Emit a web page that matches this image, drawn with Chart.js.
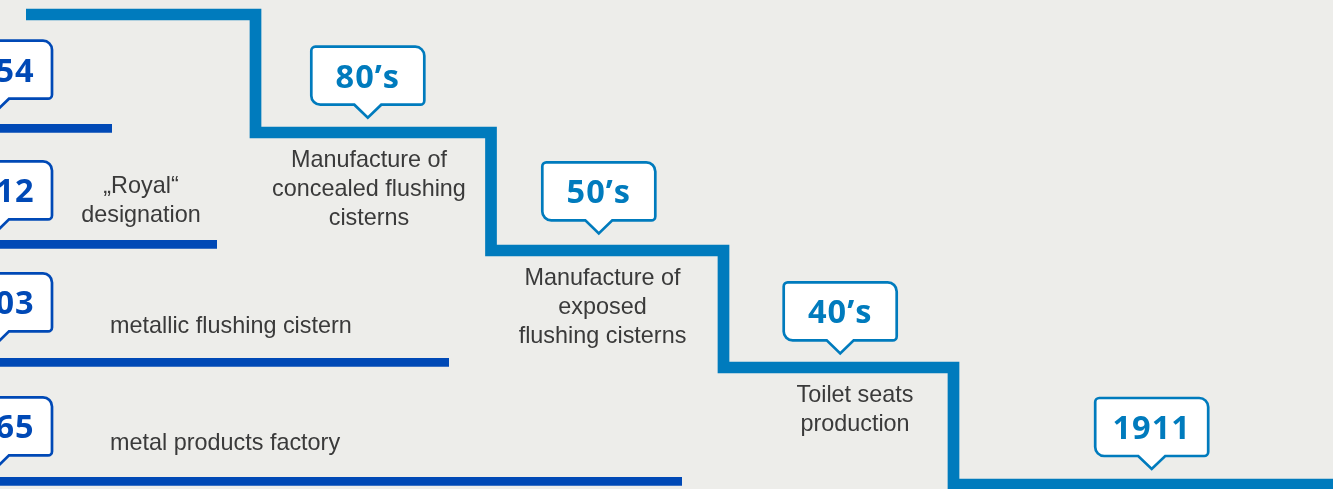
<!DOCTYPE html>
<html><head><meta charset="utf-8">
<script src="https://cdn.jsdelivr.net/npm/chart.js@4"></script>
<style>html,body{margin:0;padding:0;background:#ededea;overflow:hidden}
#wrap{width:1333px;height:489px;position:relative}</style>
</head><body><div id="wrap"><canvas id="c"></canvas></div>
<script>
// ---- data (timeline units) ----
// light-blue staircase: corner positions along the timeline
const stepX = [26, 255.5, 491, 723.5, 953.5, 1333];
const stepY = [14.5, 132.5, 250.5, 367.5, 484.5, 484.5];
// dark-blue history bars
const barEnds = [112, 217, 449, 682];
const barLevels = [128.3, 244.3, 362.3, 481.3];
// callouts on the staircase
const eraLabels = ["80’s", "50’s", "40’s", "1911"];
const eraX = [367.8, 598.8, 840.2, 1151.7];
const eraY = [117.7, 233.4, 353.4, 469];
// callouts on the history bars
const yearLabels = ["1954", "1912", "1903", "1865"];
const yearX = [-4.5, -4.5, -4.5, -4.5];
const yearY = [111.7, 232.4, 344.4, 468.4];
// descriptions
const eraTexts = [["Manufacture of", "concealed flushing", "cisterns"], ["Manufacture of", "exposed", "flushing cisterns"], ["Toilet seats", "production"]];
const yearTexts = [[], ["„Royal“", "designation"], ["metallic flushing cistern"], ["metal products factory"]];

// ---- styling / layout ----
const STEP = '#007bbd', BAR = '#0049b6', TXT = '#3a3a3a';
const eraTextPos = [{x: 369, y: 167, align: 'center'}, {x: 602.5, y: 285, align: 'center'}, {x: 855, y: 401.5, align: 'center'}];
const yearTextPos = [null, {x: 141, y: 193.3, align: 'center'}, {x: 110, y: 333.3, align: 'left'}, {x: 110, y: 450, align: 'left'}];

function drawBubble(ctx, cx, tipY, color, text) {
  const w = 113, h = 58, tailH = 13, tailHalf = 13.5;
  const bottom = tipY - tailH, top = bottom - h, left = cx - w / 2, right = cx + w / 2;
  const rtl = 4, rtr = 9, rbr = 4, rbl = 9;
  ctx.save();
  ctx.beginPath();
  ctx.moveTo(left + rtl, top);
  ctx.lineTo(right - rtr, top); ctx.arcTo(right, top, right, top + rtr, rtr);
  ctx.lineTo(right, bottom - rbr); ctx.arcTo(right, bottom, right - rbr, bottom, rbr);
  ctx.lineTo(cx + tailHalf, bottom); ctx.lineTo(cx, tipY); ctx.lineTo(cx - tailHalf, bottom);
  ctx.lineTo(left + rbl, bottom); ctx.arcTo(left, bottom, left, bottom - rbl, rbl);
  ctx.lineTo(left, top + rtl); ctx.arcTo(left, top, left + rtl, top, rtl);
  ctx.closePath();
  ctx.fillStyle = '#ffffff'; ctx.fill();
  ctx.lineWidth = 2.7; ctx.strokeStyle = color; ctx.lineJoin = 'miter'; ctx.stroke();
  ctx.fillStyle = color;
  ctx.font = 'bold 32.5px "Open Sans"';
  ctx.textAlign = 'center'; ctx.textBaseline = 'alphabetic';
  try { ctx.letterSpacing = '1px'; } catch (e) {}
  ctx.fillText(text, cx, top + 41);
  ctx.restore();
}

function drawLines(ctx, lines, pos) {
  if (!pos) return;
  ctx.save();
  ctx.fillStyle = TXT; ctx.font = '23.4px "Liberation Sans"';
  ctx.textAlign = pos.align; ctx.textBaseline = 'alphabetic';
  lines.forEach((l, i) => ctx.fillText(l, pos.x, pos.y + i * 29));
  ctx.restore();
}

const calloutPlugin = {
  id: 'callouts',
  afterDatasetsDraw(chart) {
    const {ctx, scales: {x, y}} = chart;
    eraLabels.forEach((lab, i) => drawBubble(ctx, x.getPixelForValue(eraX[i]), y.getPixelForValue(eraY[i]), STEP, lab));
    yearLabels.forEach((lab, i) => drawBubble(ctx, x.getPixelForValue(yearX[i]), y.getPixelForValue(yearY[i]), BAR, lab));
    eraTexts.forEach((t, i) => drawLines(ctx, t, eraTextPos[i]));
    yearTexts.forEach((t, i) => drawLines(ctx, t, yearTextPos[i]));
  }
};

const datasets = [{
  data: stepX.map((v, i) => ({x: v, y: stepY[i]})),
  stepped: 'before', borderColor: STEP, borderWidth: 11.7, pointRadius: 0,
  borderCapStyle: 'butt', borderJoinStyle: 'miter', fill: false, clip: false
}];
barEnds.forEach((e, i) => datasets.push({
  data: [{x: 0, y: barLevels[i]}, {x: e, y: barLevels[i]}],
  borderColor: BAR, borderWidth: 8.7, pointRadius: 0, borderCapStyle: 'butt', fill: false, clip: false
}));

new Chart(document.getElementById('c'), {
  type: 'line',
  data: {datasets},
  options: {
    responsive: true, maintainAspectRatio: false, animation: false,
    layout: {padding: 0},
    plugins: {legend: {display: false}, tooltip: {enabled: false}},
    scales: {
      x: {type: 'linear', min: 0, max: 1333, display: false},
      y: {type: 'linear', min: 0, max: 489, reverse: true, display: false}
    }
  },
  plugins: [calloutPlugin]
});
</script></body></html>
